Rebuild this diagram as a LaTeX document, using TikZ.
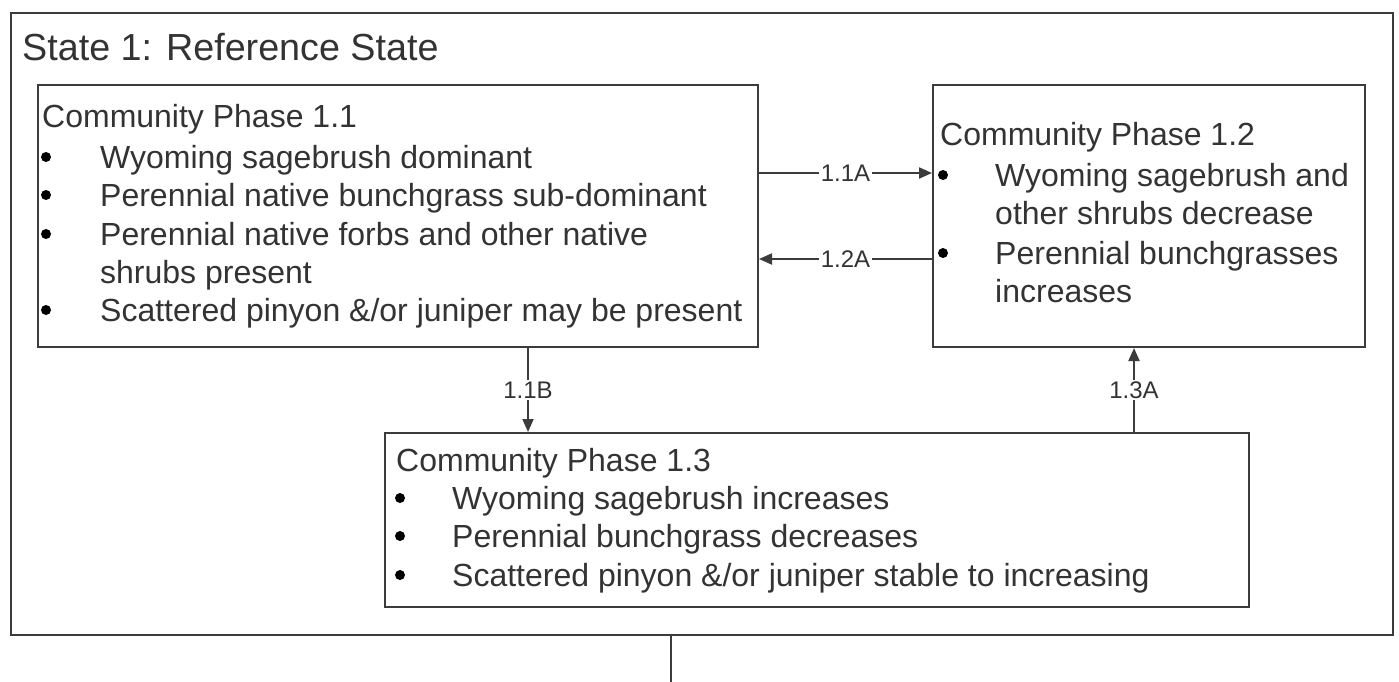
\documentclass[tikz,border=0pt]{standalone}
\usepackage{fontspec}
\setmainfont{Liberation Sans}
\usetikzlibrary{arrows.meta}
\definecolor{linec}{HTML}{3C3C3C}
\definecolor{txtc}{HTML}{333333}
\begin{document}
\begin{tikzpicture}[x=1pt,y=-1pt,
  box/.style={draw=linec, line width=2pt, inner sep=0, anchor=north west},
  txt/.style={anchor=base west, inner sep=0, text=txtc, font=\fontsize{32}{38}\selectfont},
  ttl/.style={anchor=base west, inner sep=0, text=txtc, font=\fontsize{37.7}{44}\selectfont},
  lbl/.style={fill=white, inner sep=1.5pt, text=txtc, font=\fontsize{24}{27}\selectfont},
  bul/.style={circle, fill=black, inner sep=0, minimum size=10pt},
  arr/.style={draw=linec, line width=2pt, -{Triangle[length=13pt,width=11pt]}},
  ln/.style={draw=linec, line width=2pt}]
\useasboundingbox (0,0) rectangle (1399,682);
\fill[white] (0,0) rectangle (1399,682);
% boxes
\node[box, minimum width=1382pt, minimum height=622pt] (state) at (10,12) {};
\node[box, minimum width=720pt, minimum height=262pt] (p11) at (37,84) {};
\node[box, minimum width=432pt, minimum height=262pt] (p12) at (932,84) {};
\node[box, minimum width=864pt, minimum height=174pt] (p13) at (384,432) {};
% title
\node[ttl] (title) at (22,61) {State 1: Reference State};
% phase 1.1
\node[txt] (h11) at (42,128) {Community Phase 1.1};
\node[bul] (b11a) at (46,157) {};
\node[txt] (t11a) at (100,168) {Wyoming sagebrush dominant};
\node[bul] (b11b) at (46,195) {};
\node[txt] (t11b) at (100,206) {Perennial native bunchgrass sub-dominant};
\node[bul] (b11c) at (46,234) {};
\node[txt] (t11c) at (100,245) {Perennial native forbs and other native};
\node[txt] (t11d) at (100,283) {shrubs present};
\node[bul] (b11e) at (46,310) {};
\node[txt] (t11e) at (100,321) {Scattered pinyon \&/or juniper may be present};
% phase 1.2
\node[txt] (h12) at (940,146) {Community Phase 1.2};
\node[bul] (b12a) at (943,175) {};
\node[txt] (t12a) at (995,186) {Wyoming sagebrush and};
\node[txt] (t12b) at (995,224) {other shrubs decrease};
\node[bul] (b12c) at (943,253) {};
\node[txt] (t12c) at (995,264) {Perennial bunchgrasses};
\node[txt] (t12d) at (995,302) {increases};
% phase 1.3
\node[txt] (h13) at (396,471) {Community Phase 1.3};
\node[bul] (b13a) at (400,498) {};
\node[txt] (t13a) at (452,509) {Wyoming sagebrush increases};
\node[bul] (b13b) at (400,536) {};
\node[txt] (t13b) at (452,547) {Perennial bunchgrass decreases};
\node[bul] (b13c) at (400,575) {};
\node[txt] (t13c) at (452,586) {Scattered pinyon \&/or juniper stable to increasing};
% connectors
\draw[arr] (p11.east |- 0,173) -- (p12.west |- 0,173) node[lbl, midway] {1.1A};
\draw[arr] (p12.west |- 0,259) -- (p11.east |- 0,259) node[lbl, midway] {1.2A};
\draw[arr] (p11.south -| 528,0) -- (p13.north -| 528,0) node[lbl, midway] {1.1B};
\draw[arr] (p13.north -| 1134,0) -- (p12.south -| 1134,0) node[lbl, midway] {1.3A};
\coordinate (out) at (671,682);
\draw[ln] (state.south -| out) -- (out);
\end{tikzpicture}
\end{document}
